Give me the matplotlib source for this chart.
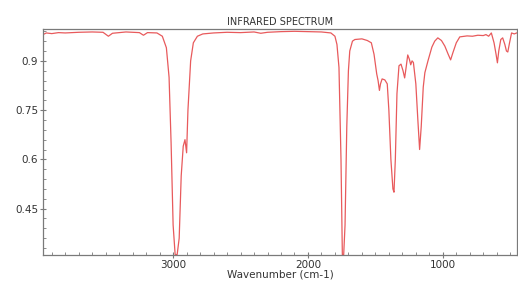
import matplotlib
matplotlib.use("Agg")
import matplotlib.pyplot as plt
from matplotlib.ticker import FixedLocator, MultipleLocator, FuncFormatter

# wavenumber (cm-1) and transmittance
wavenumber = [3965, 3940, 3900, 3850, 3800, 3700, 3600, 3520, 3480, 3450,
              3350, 3250, 3220, 3190, 3120, 3080, 3050, 3030, 3015, 3000,
              2985, 2970, 2955, 2940, 2925, 2912, 2900, 2890, 2870, 2850,
              2820, 2780, 2700, 2600, 2500, 2400, 2350, 2300, 2200, 2100,
              2000, 1900, 1830, 1800, 1785, 1770, 1755, 1745, 1735, 1725,
              1712, 1700, 1690, 1670, 1652, 1600, 1560, 1530, 1510, 1490,
              1480, 1470, 1462, 1450, 1430, 1412, 1400, 1385, 1370, 1362,
              1352, 1340, 1325, 1310, 1295, 1283, 1272, 1260, 1248, 1238,
              1228, 1218, 1200, 1185, 1172, 1160, 1145, 1133, 1110, 1081,
              1060, 1037, 1010, 985, 960, 942, 925, 900, 874, 820,
              780, 740, 700, 680, 660, 640, 620, 605, 595, 585,
              570, 556, 540, 528, 518, 505, 490, 470, 452]
transmittance = [0.980, 0.985, 0.983, 0.986, 0.985, 0.987, 0.988, 0.987, 0.975, 0.984,
                 0.988, 0.986, 0.978, 0.986, 0.985, 0.975, 0.940, 0.850, 0.650, 0.400,
                 0.310, 0.310, 0.360, 0.550, 0.640, 0.660, 0.620, 0.750, 0.900, 0.955,
                 0.975, 0.982, 0.985, 0.987, 0.986, 0.988, 0.984, 0.987, 0.989, 0.990,
                 0.989, 0.988, 0.985, 0.975, 0.950, 0.880, 0.600, 0.310, 0.310, 0.400,
                 0.700, 0.870, 0.930, 0.960, 0.965, 0.967, 0.962, 0.955, 0.920, 0.860,
                 0.840, 0.810, 0.830, 0.845, 0.842, 0.830, 0.750, 0.600, 0.510, 0.500,
                 0.600, 0.800, 0.885, 0.890, 0.870, 0.848, 0.880, 0.918, 0.905, 0.888,
                 0.900, 0.895, 0.830, 0.720, 0.630, 0.700, 0.820, 0.864, 0.900, 0.942,
                 0.960, 0.970, 0.962, 0.945, 0.920, 0.903, 0.925, 0.955, 0.973, 0.976,
                 0.975, 0.978, 0.977, 0.980, 0.975, 0.985, 0.955, 0.920, 0.894, 0.930,
                 0.965, 0.970, 0.950, 0.930, 0.927, 0.955, 0.985, 0.982, 0.985]

x_ticks = [3000, 2000, 1000]
y_ticks = [0.45, 0.6, 0.75, 0.9]

fig = plt.figure(figsize=(5.18, 2.93), dpi=100)
ax = fig.add_axes([0.083, 0.130, 0.915, 0.771])

ax.plot(wavenumber, transmittance, color="#e85a5c", lw=0.9)

ax.set_xlim(3965, 450)
ax.set_ylim(0.309, 0.997)

ax.xaxis.set_major_locator(FixedLocator(x_ticks))
ax.xaxis.set_minor_locator(MultipleLocator(100))
ax.yaxis.set_major_locator(FixedLocator(y_ticks))
ax.yaxis.set_minor_locator(MultipleLocator(0.03))
ax.yaxis.set_major_formatter(FuncFormatter(lambda v, p: "%g" % v))

for s in ax.spines.values():
    s.set_color("#7a7a7a")
    s.set_linewidth(0.9)
ax.tick_params(which="major", direction="inout", length=4, width=0.8,
               colors="#7a7a7a", labelcolor="#333333", labelsize=7.5, pad=1.5)
ax.tick_params(which="minor", direction="in", length=2, width=0.6, colors="#7a7a7a")
ax.tick_params(top=False, right=False)

ax.set_title("INFRARED SPECTRUM", fontsize=7, color="#333333", pad=3)
ax.set_xlabel("Wavenumber (cm-1)", fontsize=7.5, color="#333333", labelpad=0)

fig.savefig("out.png", dpi=100)
